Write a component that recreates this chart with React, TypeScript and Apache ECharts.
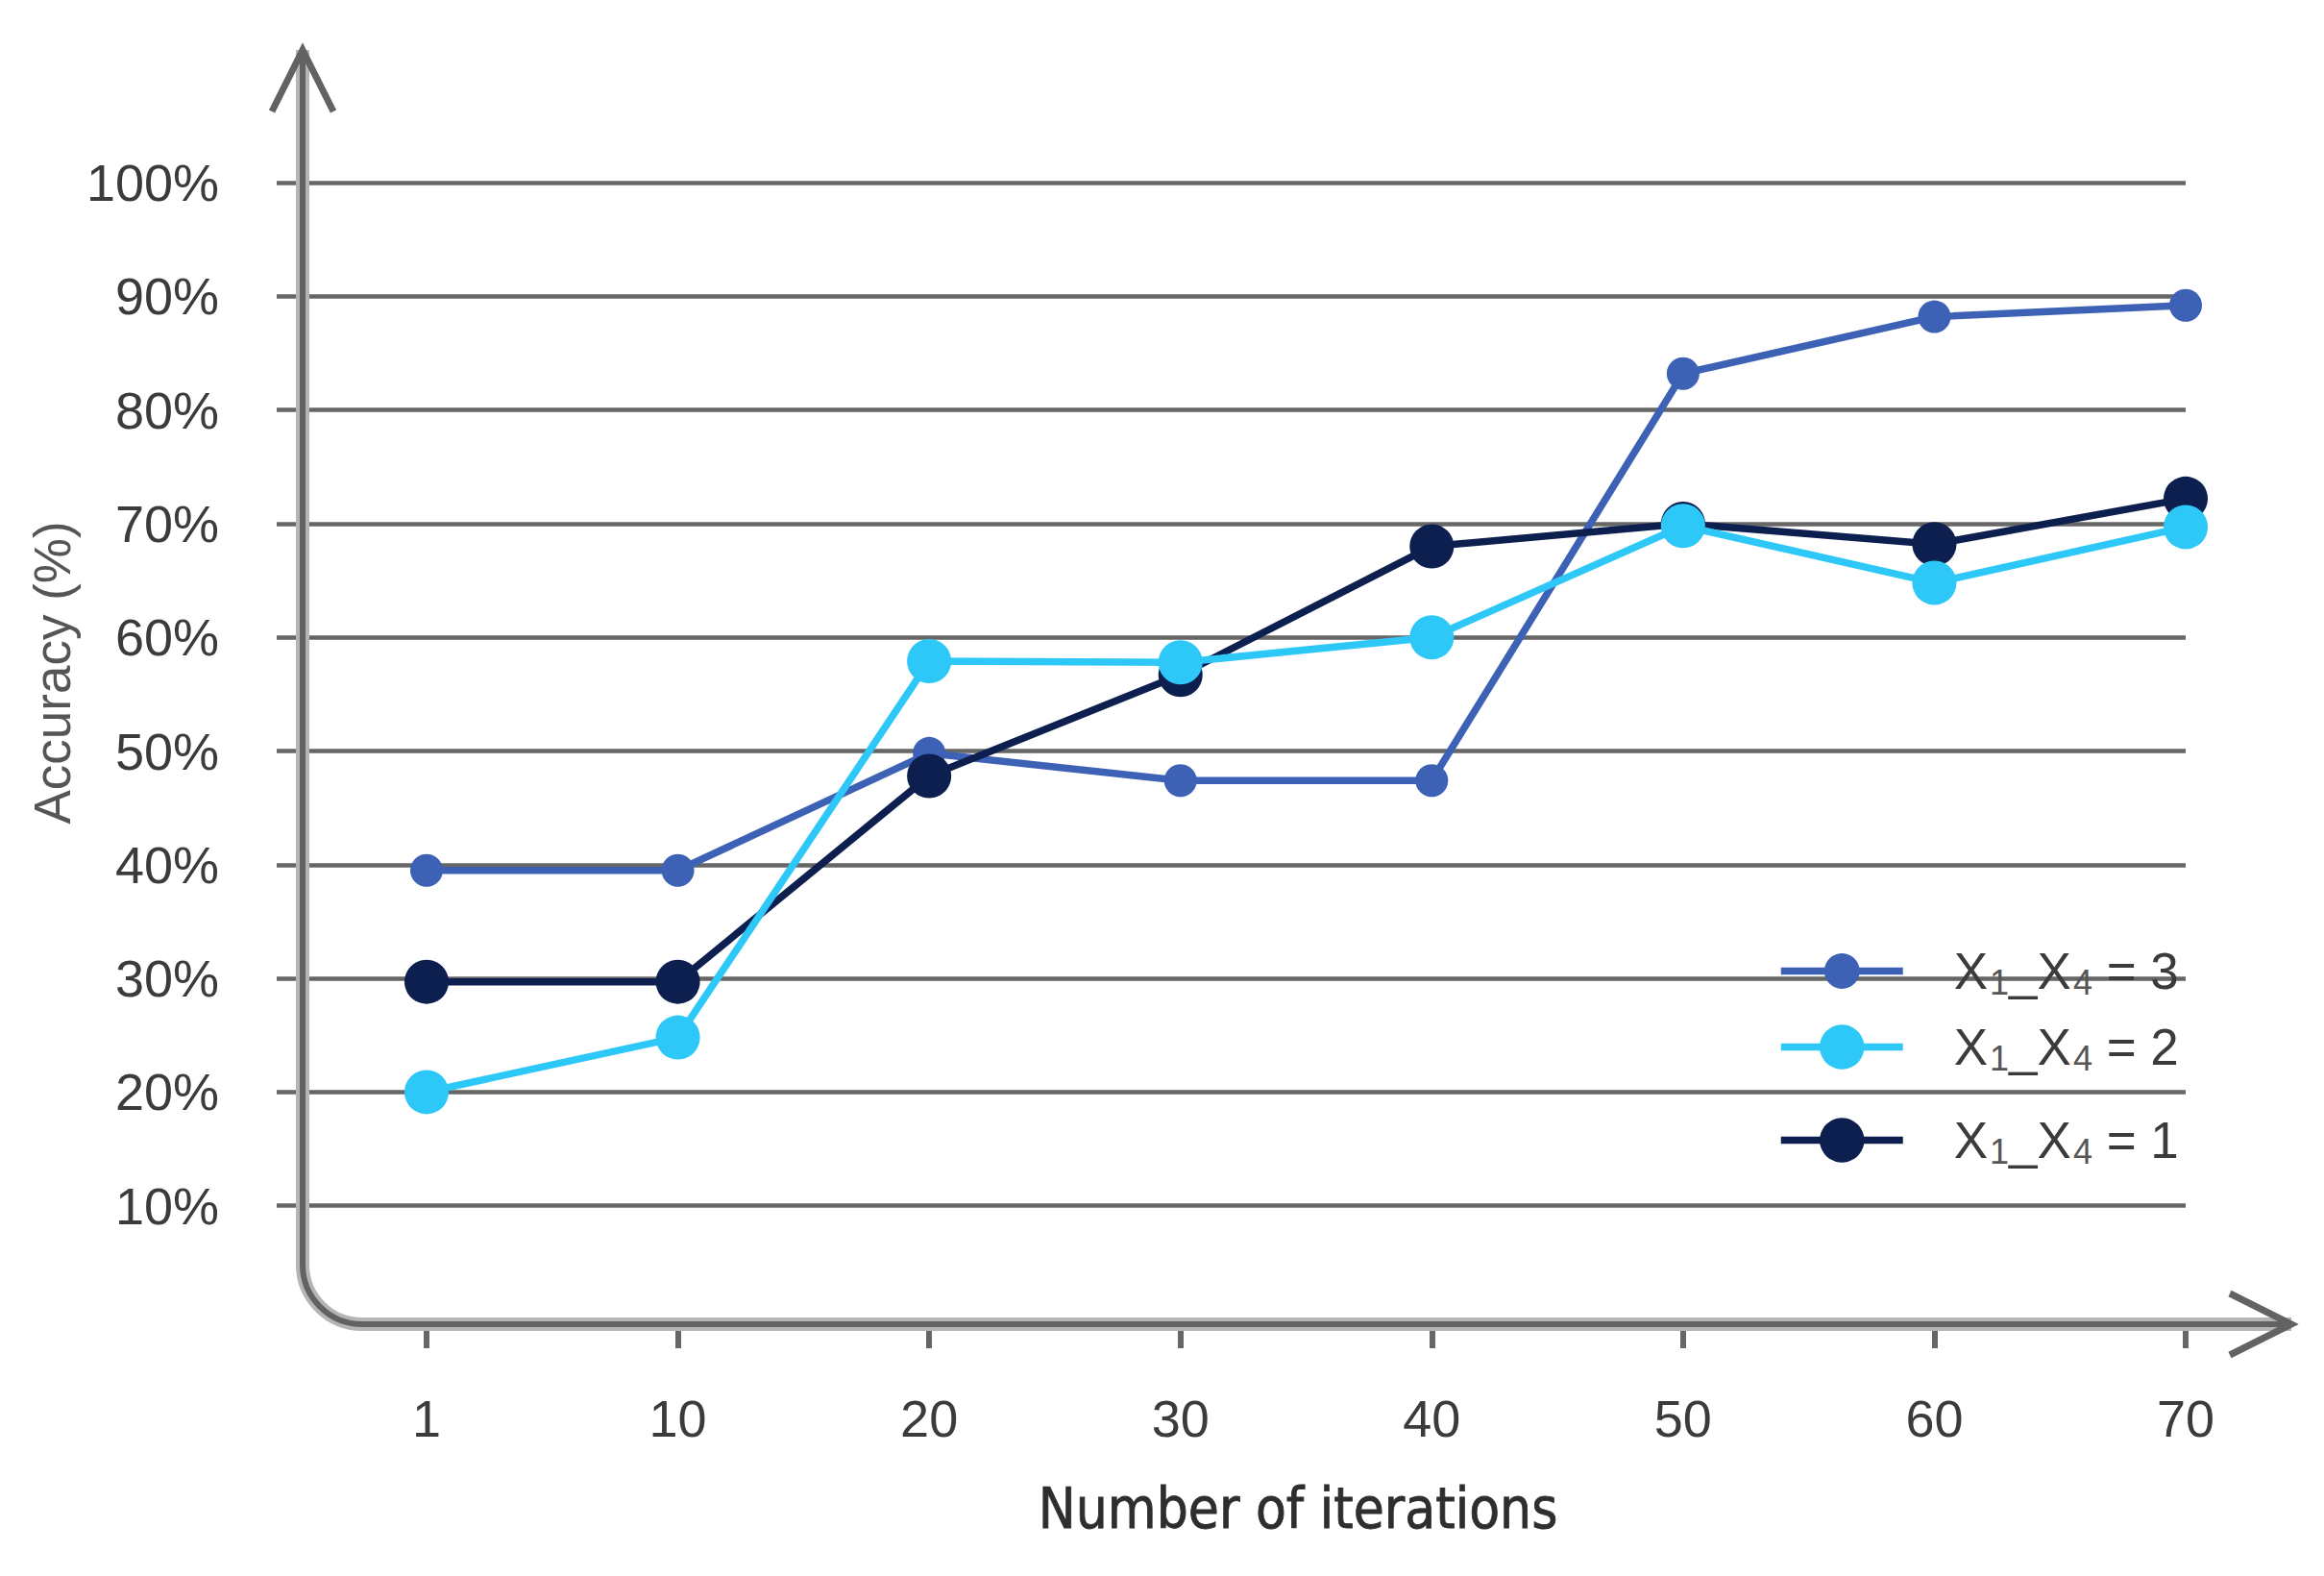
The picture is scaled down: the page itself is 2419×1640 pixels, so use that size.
import React, { useEffect, useRef } from "react";
import * as echarts from "echarts";

// ---- data ----
const categories = ["1", "10", "20", "30", "40", "50", "60", "70"];
const seriesNames = ["X₁_X₄ = 3", "X₁_X₄ = 2", "X₁_X₄ = 1"];
const legendLevels = ["3", "2", "1"];
const valuesK3 = [39.5, 39.5, 49.8, 47.4, 47.4, 83.2, 88.2, 89.2];
const valuesK2 = [20, 24.8, 57.9, 57.8, 60, 69.8, 64.8, 69.7];
const valuesK1 = [29.7, 29.7, 47.8, 56.7, 68, 70, 68.2, 72.2];
const yMin = 0;
const yMax = 100;
const yStep = 10;
const xTitle = "Number of iterations";
const yTitle = "Accuracy (%)";

// ---- layout / style ----
const W = 2419;
const H = 1640;
const GRID_TOP = 190;
const GRID_BOTTOM = 267;
const DATA_LEFT = 444;
const BG_LEFT = 288;
const GRID_RIGHT = 144;
const AX_X = 315;
const AX_Y = 1378;
const CORNER_R = 62;
const Y_TIP = 52;
const X_TIP = 2385;
const ARROW_LEN = 64;
const ARROW_HALF = 32;

const COLORS = ["#3d62b5", "#2dc8f7", "#0d1f4f"];
const TEXT_COLOR = "#3b3b3b";
const GRID_COLOR = "#666666";
const FONT = "'Liberation Sans', Arial, sans-serif";

const k = 0.5523 * CORNER_R;
const axesLinePath =
  `M${AX_X} ${Y_TIP} L${AX_X} ${AX_Y - CORNER_R} ` +
  `C${AX_X} ${AX_Y - CORNER_R + k} ${AX_X + CORNER_R - k} ${AX_Y} ${AX_X + CORNER_R} ${AX_Y} ` +
  `L${X_TIP} ${AX_Y}`;
const arrowsPath =
  `M${AX_X - ARROW_HALF} ${Y_TIP + ARROW_LEN} L${AX_X} ${Y_TIP} L${AX_X + ARROW_HALF} ${Y_TIP + ARROW_LEN} ` +
  `M${X_TIP - ARROW_LEN} ${AX_Y - ARROW_HALF} L${X_TIP} ${AX_Y} L${X_TIP - ARROW_LEN} ${AX_Y + ARROW_HALF}`;

let shapesRegistered = false;
function registerShapes() {
  if (shapesRegistered) return;
  echarts.graphic.registerShape("axesLine", echarts.graphic.extendPath(axesLinePath, {}));
  echarts.graphic.registerShape("axesArrows", echarts.graphic.extendPath(arrowsPath, {}));
  shapesRegistered = true;
}

const legendCenters = [1014, 1093, 1190];
const legendItemHeights = [46, 58, 58];
const symbolSizes = [34, 46, 46];

export default function App() {
  const ref = useRef<HTMLDivElement>(null);

  useEffect(() => {
    if (!ref.current) return;
    registerShapes();
    const chart = echarts.init(ref.current, undefined, { renderer: "svg", width: W, height: H });

    const seriesData = [valuesK3, valuesK2, valuesK1];
    const drawOrder = [0, 2, 1];
    const nSplit = (yMax - yMin) / yStep + 1;
    const splitColors = Array.from({ length: nSplit }, (_, i) => (i === 0 ? "rgba(0,0,0,0)" : GRID_COLOR));

    const option: any = {
      animation: false,
      backgroundColor: "#ffffff",
      grid: [
        { left: DATA_LEFT, right: GRID_RIGHT, top: GRID_TOP, bottom: GRID_BOTTOM },
        { left: BG_LEFT, right: GRID_RIGHT, top: GRID_TOP, bottom: GRID_BOTTOM },
      ],
      xAxis: [
        {
          gridIndex: 0,
          type: "category",
          data: categories,
          boundaryGap: false,
          axisLine: { show: false },
          axisTick: { show: true, length: 30, lineStyle: { color: GRID_COLOR, width: 6 } },
          axisLabel: { fontSize: 54, margin: 76, color: TEXT_COLOR, fontFamily: FONT },
          splitLine: { show: false },
        },
        { gridIndex: 1, type: "value", show: false, min: 0, max: 1 },
      ],
      yAxis: [
        { gridIndex: 0, type: "value", min: yMin, max: yMax, interval: yStep, show: false },
        {
          gridIndex: 1,
          type: "value",
          min: yMin,
          max: yMax,
          interval: yStep,
          axisLine: { show: false },
          axisTick: { show: false },
          axisLabel: {
            formatter: (v: number) => (v === 0 ? "" : `${v}%`),
            margin: 60,
            fontSize: 54,
            color: TEXT_COLOR,
            fontFamily: FONT,
          },
          splitLine: { show: true, lineStyle: { color: splitColors, width: 4.5 } },
        },
      ],
      legend: seriesNames.map((name, i) => ({
        data: [name],
        orient: "vertical",
        left: 1845,
        top: legendCenters[i] - 5 - 30,
        padding: 5,
        itemWidth: 127,
        itemHeight: legendItemHeights[i],
        selectedMode: false,
        lineStyle: { width: 7.5 },
        formatter: () => `{x|X}{s|1}{x|_X}{s|4}{x| = ${legendLevels[i]}}`,
        textStyle: {
          color: TEXT_COLOR,
          fontFamily: FONT,
          padding: [0, 0, 0, 48],
          rich: {
            x: { fontSize: 53, lineHeight: 60, color: TEXT_COLOR, fontFamily: FONT, verticalAlign: "middle" },
            s: {
              fontSize: 36,
              lineHeight: 60,
              color: "#555555",
              fontFamily: FONT,
              verticalAlign: "bottom",
              padding: [0, 0, 0, 2],
            },
          },
        },
      })),
      series: drawOrder.map((i) => ({
        type: "line",
        name: seriesNames[i],
        data: seriesData[i],
        xAxisIndex: 0,
        yAxisIndex: 0,
        symbol: "circle",
        symbolSize: symbolSizes[i],
        showSymbol: true,
        lineStyle: { width: 7.5, color: COLORS[i] },
        itemStyle: { color: COLORS[i] },
        emphasis: { disabled: true },
        z: 3,
      })),
      graphic: [
        {
          type: "axesLine",
          x: 0,
          y: 0,
          z: 1,
          style: { fill: "none", stroke: "#b5b5b5", lineWidth: 14 },
        },
        {
          type: "axesLine",
          x: 0,
          y: 0,
          z: 2,
          style: { fill: "none", stroke: "#626262", lineWidth: 6 },
        },
        {
          type: "axesArrows",
          x: 0,
          y: 0,
          z: 2,
          style: { fill: "none", stroke: "#626262", lineWidth: 7 },
        },
        {
          type: "text",
          x: 54,
          y: 700,
          rotation: Math.PI / 2,
          style: {
            text: yTitle,
            fontSize: 53,
            fontFamily: FONT,
            fill: "#555555",
            align: "center",
            verticalAlign: "middle",
            textAlign: "center",
            textVerticalAlign: "middle",
          },
        },
        {
          type: "text",
          x: 1351,
          y: 1570,
          style: {
            text: xTitle,
            fontSize: 58,
            fontFamily: "'DejaVu Sans Condensed', 'Liberation Sans Narrow', sans-serif",
            fill: "#2e2e2e",
            stroke: "#2e2e2e",
            lineWidth: 0.8,
            align: "center",
            verticalAlign: "middle",
            textAlign: "center",
            textVerticalAlign: "middle",
          },
        },
      ],
    };

    chart.setOption(option);
    return () => chart.dispose();
  }, []);

  return (
    <div
      ref={ref}
      style={{ position: "absolute", left: 0, top: 0, width: W, height: H, background: "#fff" }}
    />
  );
}
